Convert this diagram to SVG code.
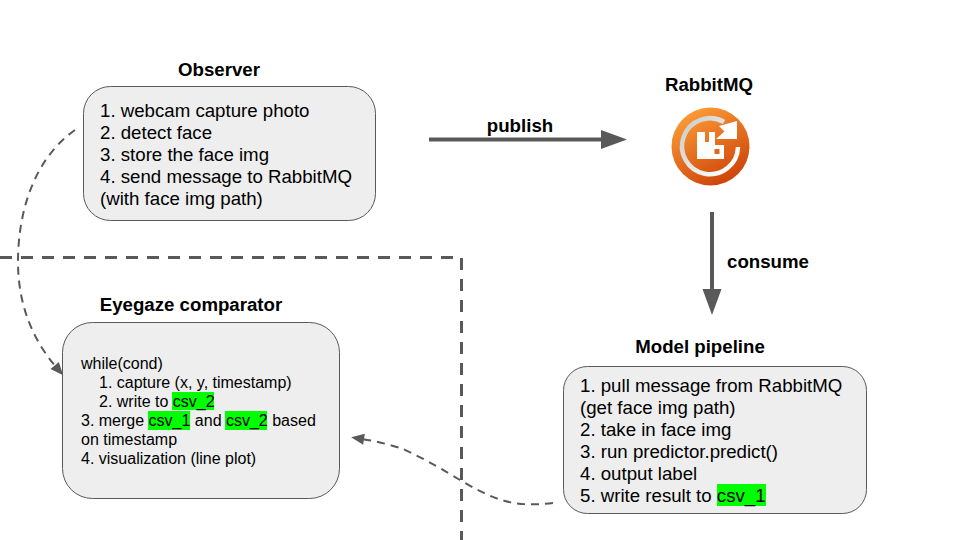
<svg xmlns="http://www.w3.org/2000/svg" width="960" height="540" viewBox="0 0 960 540">
<style>
text{font-family:"Liberation Sans",Arial,sans-serif;fill:#000}
.t{font-weight:700;font-size:18.67px;text-anchor:middle}
.b{font-size:18.67px}
.s{font-size:16px}
.box{fill:#eee;stroke:#595959;stroke-width:1}
.hl{fill:#0f0}
.solid{fill:none;stroke:#595959;stroke-width:4}
.dash{fill:none;stroke:#595959;stroke-width:2;stroke-dasharray:8 6}
.border{fill:none;stroke:#595959;stroke-width:3;stroke-dasharray:12 9}
</style>
<defs>
<marker id="a" markerUnits="userSpaceOnUse" markerWidth="28" markerHeight="20" refX="2" refY="10" orient="auto"><path d="M1 .5L27 10L1 19.500Z" fill="#595959"/></marker>
<marker id="d" markerUnits="userSpaceOnUse" markerWidth="16" markerHeight="14" refX="3" refY="7" orient="auto"><path d="M1 1.5L14 7L1 12.5Z" fill="#595959"/></marker>
<linearGradient id="og" x1="0.25" y1="0.05" x2="0.75" y2="0.95"><stop offset="0" stop-color="#fb9a35"/><stop offset="1" stop-color="#cd4309"/></linearGradient>
<linearGradient id="wg" gradientUnits="userSpaceOnUse" x1="685" y1="125" x2="735" y2="170"><stop offset="0" stop-color="#cfcfcf"/><stop offset="1" stop-color="#fff"/></linearGradient>
</defs>
<g id="connectors">
<path class="border" d="M0 257.500H461.500V540"/>
<path class="solid" d="M429 139.500H602" marker-end="url(#a)"/>
<path class="solid" d="M712 212V290" marker-end="url(#a)"/>
<path class="dash" d="M75 130C35 158 18 210 18 262C18 305 33 340 56 367" marker-end="url(#d)"/>
<path class="dash" d="M553 503C535 505 520 505 505 501C490 497 475 489 460 480C445 471 425 459 403 449C392 445 375 441 362 439" marker-end="url(#d)"/>
</g>
<g id="observer">
<text class="t" x="219" y="76">Observer</text>
<rect class="box" x="83.500" y="86.500" width="292" height="134" rx="27"/>
<text class="b" x="100" y="117">1. webcam capture photo</text>
<text class="b" x="100" y="139">2. detect face</text>
<text class="b" x="100" y="161">3. store the face img</text>
<text class="b" x="100" y="183">4. send message to RabbitMQ</text>
<text class="b" x="100" y="205">(with face img path)</text>
</g>
<g id="publish-label"><text class="t" x="520" y="132">publish</text></g>
<g id="rabbitmq">
<text class="t" x="709" y="91">RabbitMQ</text>
<circle cx="710.500" cy="146.500" r="39" fill="url(#og)"/>
<path d="M738 147A28 28 0 1 1 724 122" fill="none" stroke="url(#wg)" stroke-width="4.500"/>
<path d="M737 121V139H716L724.500 131.500L719 126Z" fill="#fff"/>
<path d="M697 132H705V142H709V132H715V145H724V159H697Z" fill="#fff"/>
<rect x="714.500" y="149" width="5" height="5" fill="#e2661a"/>
</g>
<g id="consume-label"><text class="t" x="768" y="268">consume</text></g>
<g id="eyegaze">
<text class="t" x="191" y="311">Eyegaze comparator</text>
<rect class="box" x="62.500" y="322.500" width="277" height="176" rx="30"/>
<rect class="hl" x="172" y="392" width="42" height="18"/>
<rect class="hl" x="148" y="411" width="42" height="19"/>
<rect class="hl" x="225" y="411" width="42" height="19"/>
<text class="s" x="81" y="369">while(cond)</text>
<text class="s" x="99" y="388">1. capture (x, y, timestamp)</text>
<text class="s" x="99" y="407">2. write to csv_2</text>
<text class="s" x="81" y="426">3. merge csv_1 and csv_2 based</text>
<text class="s" x="81" y="445">on timestamp</text>
<text class="s" x="81" y="464">4. visualization (line plot)</text>
</g>
<g id="model-pipeline">
<text class="t" x="700" y="353">Model pipeline</text>
<rect class="box" x="563.500" y="366.500" width="303" height="147" rx="24"/>
<rect class="hl" x="717" y="484" width="49" height="22"/>
<text class="b" x="580" y="392">1. pull message from RabbitMQ</text>
<text class="b" x="580" y="414">(get face img path)</text>
<text class="b" x="580" y="436">2. take in face img</text>
<text class="b" x="580" y="458">3. run predictor.predict()</text>
<text class="b" x="580" y="480">4. output label</text>
<text class="b" x="580" y="502">5. write result to csv_1</text>
</g>
</svg>
